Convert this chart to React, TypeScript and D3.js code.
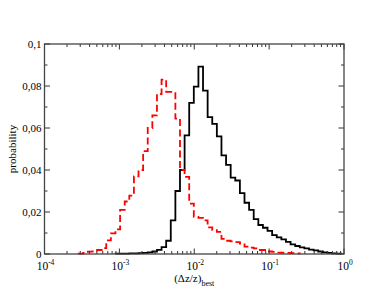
import React from "react";
import * as d3 from "d3";

// Histogram bins: equal width in log10(Δz/z)
const binStartLog = -3.5443;
const binWidthLog = 0.061538;

// red dashed histogram (bins 0..47)
const redValues = [
  0.0002, 0.0005, 0.0011, 0.0012, 0.0019, 0.0028, 0.0065, 0.0098, 0.0117, 0.021,
  0.025, 0.0278, 0.037, 0.040, 0.049, 0.060, 0.066, 0.0762, 0.083, 0.0772,
  0.0772, 0.0645, 0.040, 0.0367, 0.024, 0.0177, 0.0172, 0.016, 0.0127, 0.0114,
  0.0105, 0.0072, 0.0063, 0.006, 0.0057, 0.005, 0.0035, 0.003, 0.0027, 0.0019,
  0.0019, 0.0012, 0.001, 0.0007, 0.0006, 0.0005, 0.0004, 0.0003,
];

// black solid histogram (bins 0..56)
const blackValues = [
  0, 0, 0, 0, 0, 0, 0, 0, 0.0002, 0.0002,
  0.0002, 0.0003, 0.0003, 0.0004, 0.0005, 0.0008, 0.0012, 0.002, 0.0033, 0.0063,
  0.016, 0.030, 0.040, 0.0565, 0.072, 0.0797, 0.0892, 0.0778, 0.0652, 0.062,
  0.056, 0.047, 0.0424, 0.0364, 0.035, 0.029, 0.0244, 0.021, 0.0166, 0.0138,
  0.0125, 0.011, 0.009, 0.0079, 0.007, 0.0058, 0.0046, 0.0038, 0.0032, 0.0027,
  0.0021, 0.0017, 0.0012, 0.0008, 0.0005, 0.0003, 0.0002,
];

const xMajorTicks = [1e-4, 1e-3, 1e-2, 1e-1, 1e0];
const xTickExponents = ["-4", "-3", "-2", "-1", "0"];
const yMajorTicks = [0, 0.02, 0.04, 0.06, 0.08, 0.1];
const yTickLabels = ["0", "0,02", "0,04", "0,06", "0,08", "0,1"];
const yMinorTicks = [0.01, 0.03, 0.05, 0.07, 0.09];

const W = 387;
const H = 299;
const left = 44.5;
const right = 344;
const top = 44;
const bottom = 254;

const FONT = "'Liberation Serif', 'DejaVu Serif', Times, serif";

export default function App() {
  const x = d3.scaleLog().domain([1e-4, 1]).range([left, right]);
  const y = d3.scaleLinear().domain([0, 0.1]).range([bottom, top]);

  const stepPoints = (vals: number[], startIdx: number): [number, number][] => {
    const pts: [number, number][] = [];
    const edge = (i: number) => x(Math.pow(10, binStartLog + i * binWidthLog));
    pts.push([edge(startIdx), y(0)]);
    for (let i = startIdx; i < vals.length; i++) {
      pts.push([edge(i), y(vals[i])]);
      pts.push([edge(i + 1), y(vals[i])]);
    }
    pts.push([edge(vals.length), y(0)]);
    return pts;
  };
  const line = d3.line<[number, number]>();
  const redPath = line(stepPoints(redValues, 0)) || "";
  const blackPath = line(stepPoints(blackValues, 8)) || "";

  const xMinor: number[] = [];
  for (let e = -4; e < 0; e++) {
    for (let m = 2; m <= 9; m++) xMinor.push(m * Math.pow(10, e));
  }

  const majLen = 5.5;
  const minLen = 3;
  const tickStroke = "#333";

  return (
    <svg width={W} height={H} style={{ position: "absolute", left: 0, top: 0, background: "#fff" }}>
      <rect x={0} y={0} width={W} height={H} fill="#fff" />
      {/* data */}
      <path d={blackPath} fill="none" stroke="#000" strokeWidth={1.8} strokeLinejoin="miter" />
      <path d={redPath} fill="none" stroke="#ff0000" strokeWidth={1.8} strokeDasharray="7,3.5" />

      {/* ticks x */}
      {xMajorTicks.map((t, i) => (
        <g key={"xm" + i}>
          <line x1={x(t)} x2={x(t)} y1={bottom} y2={bottom - majLen} stroke={tickStroke} strokeWidth={1} />
          <line x1={x(t)} x2={x(t)} y1={top} y2={top + majLen} stroke={tickStroke} strokeWidth={1} />
        </g>
      ))}
      {xMinor.map((t, i) => (
        <g key={"xn" + i}>
          <line x1={x(t)} x2={x(t)} y1={bottom} y2={bottom - minLen} stroke={tickStroke} strokeWidth={1} />
          <line x1={x(t)} x2={x(t)} y1={top} y2={top + minLen} stroke={tickStroke} strokeWidth={1} />
        </g>
      ))}
      {/* ticks y */}
      {yMajorTicks.map((t, i) => (
        <g key={"ym" + i}>
          <line x1={left} x2={left + majLen} y1={y(t)} y2={y(t)} stroke={tickStroke} strokeWidth={1} />
          <line x1={right} x2={right - majLen} y1={y(t)} y2={y(t)} stroke={tickStroke} strokeWidth={1} />
        </g>
      ))}
      {yMinorTicks.map((t, i) => (
        <g key={"yn" + i}>
          <line x1={left} x2={left + minLen} y1={y(t)} y2={y(t)} stroke={tickStroke} strokeWidth={1} />
          <line x1={right} x2={right - minLen} y1={y(t)} y2={y(t)} stroke={tickStroke} strokeWidth={1} />
        </g>
      ))}

      {/* frame */}
      <rect x={left} y={top} width={right - left} height={bottom - top} fill="none" stroke="#444" strokeWidth={1.3} />

      {/* x tick labels */}
      {xMajorTicks.map((t, i) => (
        <text key={"xl" + i} x={x(t) + 1} y={269.5} textAnchor="middle" fontFamily={FONT} fontSize={11.5} fill="#000">
          10
          <tspan dy={-5} fontSize={7.5}>{xTickExponents[i]}</tspan>
        </text>
      ))}
      {/* y tick labels */}
      {yMajorTicks.map((t, i) => (
        <text key={"yl" + i} x={41.5} y={y(t) + 3.8} textAnchor="end" fontFamily={FONT} fontSize={11} fill="#000">
          {yTickLabels[i]}
        </text>
      ))}

      {/* axis titles */}
      <text x={(left + right) / 2} y={281.5} textAnchor="middle" fontFamily={FONT} fontSize={11} fill="#000">
        (Δz/z)
        <tspan dy={4} fontSize={8}>best</tspan>
      </text>
      <text
        transform={`translate(16,${(top + bottom) / 2}) rotate(-90)`}
        textAnchor="middle"
        fontFamily={FONT}
        fontSize={11}
        fill="#000"
      >
        probability
      </text>
    </svg>
  );
}
